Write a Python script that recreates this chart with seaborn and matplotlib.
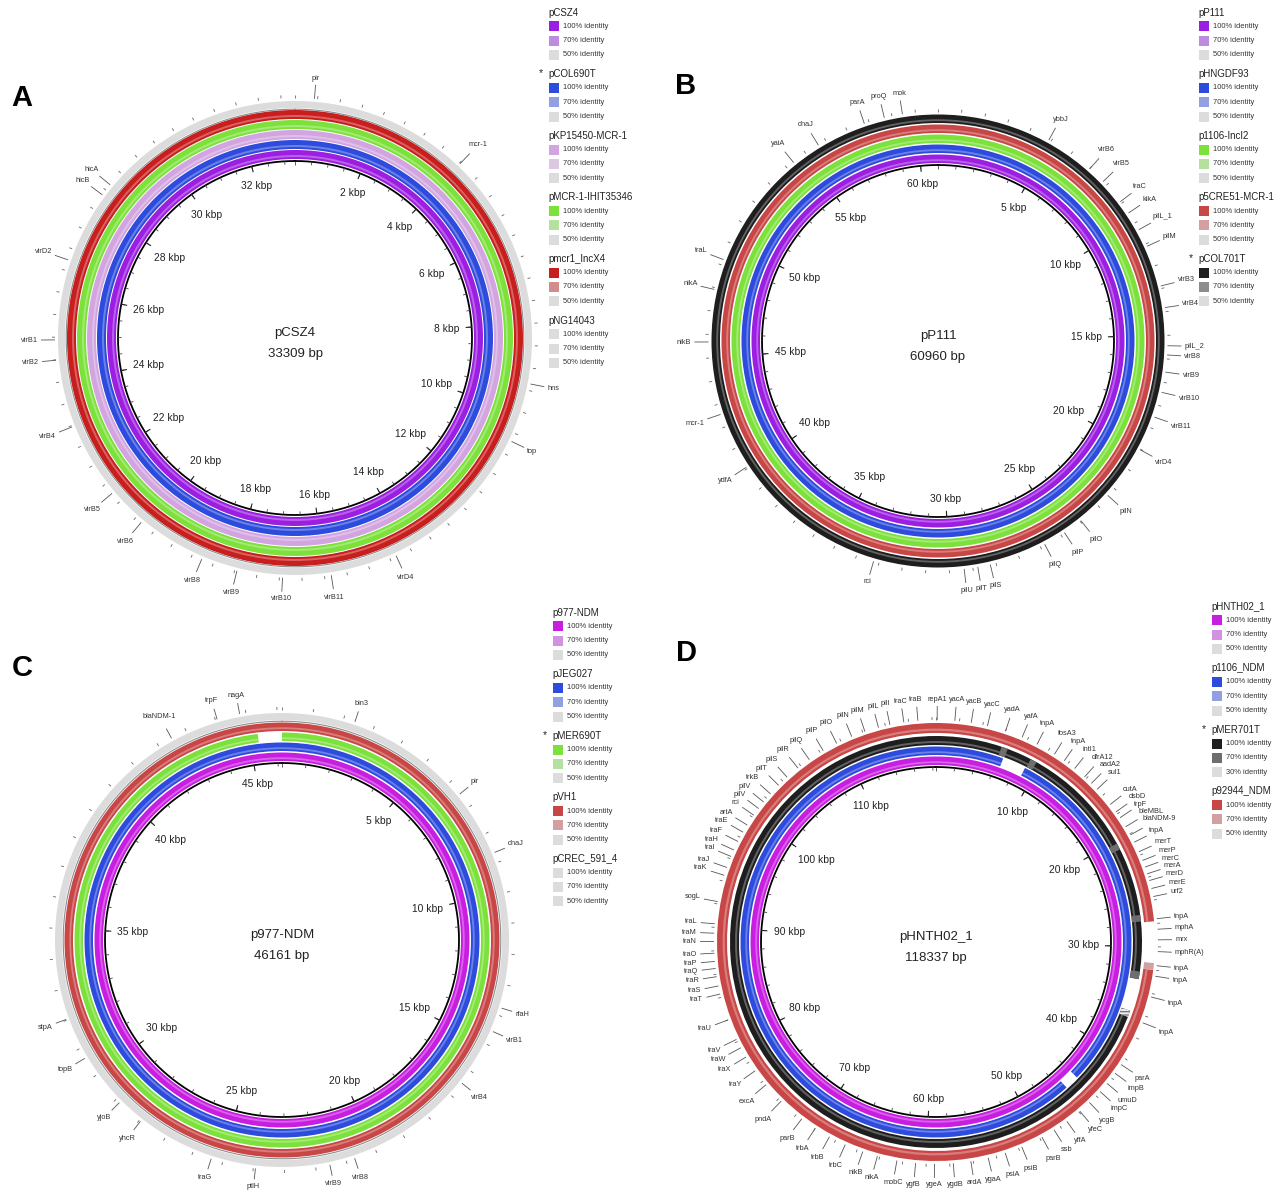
import numpy as np
import matplotlib
matplotlib.use("Agg")
import matplotlib.pyplot as plt
from matplotlib.patches import Rectangle
import seaborn as sns

sns.set_theme(style="white")
plt.rcParams['font.family'] = ['Liberation Sans', 'DejaVu Sans']

W, H = 1286, 1193

# ---------------- DATA ----------------
ident = ["100% identity", "70% identity", "50% identity"]
ident_d_ref = ["100% identity", "70% identity", "30% identity"]

# panel A
a_name = "pCSZ4"
a_bp = 33309
a_rings = ["pCSZ4", "pCOL690T", "pKP15450-MCR-1", "pMCR-1-IHIT35346", "pmcr1_IncX4", "pNG14043"]
a_ref = "pCOL690T"
a_genes = ["pir", "mcr-1", "hns", "top", "virD4", "virB11", "virB10", "virB9", "virB8",
           "virB6", "virB5", "virB4", "virB2", "virB1", "virD2", "hicB", "hicA"]
a_gene_kb = [0.43, 4.02, 9.35, 10.69, 14.35, 15.85, 16.93, 17.95, 18.77,
             20.34, 21.25, 22.97, 24.49, 24.94, 26.74, 28.37, 28.65]
a_scale_kb = np.arange(2, 33, 2)

# panel B
b_name = "pP111"
b_bp = 60960
b_rings = ["pP111", "pHNGDF93", "p1106-IncI2", "p5CRE51-MCR-1", "pCOL701T"]
b_ref = "pCOL701T"
b_genes = ["ybbJ", "virB6", "virB5", "traC", "kikA", "pilL_1", "pilM", "virB3", "virB4",
           "pilL_2", "virB8", "virB9", "virB10", "virB11", "virD4", "pilN", "pilO", "pilP",
           "pilQ", "pilS", "pilT", "pilU", "rci", "ydfA", "mcr-1", "nikB", "nikA", "traL",
           "yaiA", "dnaJ", "parA", "proQ", "mok"]
b_gene_kb = [4.89, 7.01, 7.79, 8.91, 9.50, 10.33, 11.11, 12.89, 13.82,
             15.44, 15.83, 16.56, 17.43, 18.52, 20.03, 22.40, 23.96, 24.82,
             25.79, 28.25, 28.79, 29.37, 33.24, 40.07, 42.56, 45.68, 47.92, 49.24,
             54.36, 55.64, 57.79, 58.67, 59.45]
b_scale_kb = np.arange(5, 61, 5)

# panel C
c_name = "p977-NDM"
c_bp = 46161
c_rings = ["p977-NDM", "pJEG027", "pMER690T", "pVH1", "pCREC_591_4"]
c_ref = "pMER690T"
c_genes = ["bin3", "pir", "dnaJ", "rfaH", "virB1", "virB4", "virB8", "virB9", "ptlH",
           "traG", "yhcR", "yjoB", "topB", "stpA", "blaNDM-1", "trpF", "nagA"]
c_gene_kb = [2.37, 6.49, 8.67, 13.75, 14.55, 16.48, 20.72, 21.54, 23.93,
             25.38, 27.95, 28.85, 30.65, 32.03, 42.48, 44.06, 44.80]
c_scale_kb = np.arange(5, 46, 5)
c_green_gaps = [(45.3, 46.161)]

# panel D
d_name = "pHNTH02_1"
d_bp = 118337
d_rings = ["pHNTH02_1", "p1106_NDM", "pMER701T", "p92944_NDM"]
d_ref = "pMER701T"
d_genes = ["repA1", "yacA", "yacB", "yacC", "yadA", "yafA", "tnpA", "fosA3", "tnpA", "intI1",
           "dfrA12", "aadA2", "sul1", "cutA", "dsbD", "trpF", "bleMBL", "blaNDM-9", "tnpA",
           "merT", "merP", "merC", "merA", "merD", "merE", "urf2", "tnpA", "mphA", "mrx",
           "mphR(A)", "tnpA", "tnpA", "tnpA", "tnpA", "parA", "impB", "umuD", "impC", "ycgB",
           "yfeC", "yffA", "ssb", "parB", "psiB", "psiA", "ygaA", "ardA", "ygdB", "ygeA",
           "ygfB", "mobC", "nikA", "nikB", "trbC", "trbB", "trbA", "parB", "pndA", "excA",
           "traY", "traX", "traW", "traV", "traU", "traT", "traS", "traR", "traQ", "traP",
           "traO", "traN", "traM", "traL", "sogL", "traK", "traJ", "traI", "traH", "traF",
           "traE", "artA", "rci", "pilV", "pilV", "trkB", "pilT", "pilS", "pilR", "pilQ",
           "pilP", "pilO", "pilN", "pilM", "pilL", "pilI", "traC", "traB"]
d_gene_kb = [0.1, 1.6, 3.0, 4.4, 6.0, 7.5, 8.9, 10.6, 11.6, 12.7,
             13.8, 14.6, 15.3, 17.0, 17.8, 18.4, 19.3, 20.1, 20.8,
             21.7, 22.5, 23.1, 23.7, 24.3, 25.0, 25.7, 27.6, 28.5, 29.4,
             30.4, 31.6, 32.5, 34.3, 36.6, 40.6, 41.5, 42.6, 43.5, 44.8,
             45.9, 47.3, 48.6, 49.8, 51.7, 53.2, 54.7, 56.2, 57.7, 59.3,
             60.9, 62.5, 64.2, 65.5, 67.1, 68.6, 70.0, 71.4, 73.7, 75.6,
             77.1, 78.5, 79.4, 80.2, 82.0, 84.3, 85.0, 85.8, 86.5, 87.1,
             87.8, 88.8, 89.5, 90.3, 92.2, 94.5, 95.2, 96.2, 96.8, 97.6,
             98.5, 99.2, 100.2, 100.9, 101.6, 102.5, 103.5, 104.5, 105.7, 106.9,
             108.3, 109.6, 111.0, 112.2, 113.4, 114.4, 115.6, 116.8]
d_scale_kb = np.arange(10, 111, 10)
d_blue_gaps = [(6.6, 8.9), (44.0, 45.4)]
d_black_gaps = [(33.0, 36.0)]
d_black_70 = [(6.1, 6.7), (9.0, 9.6), (20.2, 20.8), (27.1, 27.7), (32.3, 33.0)]
d_black_partial = [(36.0, 36.6)]
d_red_gaps = [(27.8, 32.0)]
d_red_70 = [(31.4, 32.0)]

# ---------------- STYLE ----------------
PAL = {
    "purple": ("#9B1EE1", "#BE8CDC", "#DCDCDC"),
    "blue": ("#2D4BDC", "#91A0E1", "#DCDCDC"),
    "lilac": ("#D2A5E1", "#DCC8E1", "#DCDCDC"),
    "green": ("#7DE13C", "#B4E1A0", "#DCDCDC"),
    "red": ("#C81E1E", "#D28C8C", "#DCDCDC"),
    "brick": ("#C84646", "#D2A0A0", "#DCDCDC"),
    "black": ("#1E1E1E", "#8C8C8C", "#DCDCDC"),
    "blackd": ("#1E1E1E", "#6E6E6E", "#DCDCDC"),
    "magenta": ("#C81EE1", "#D291E1", "#DCDCDC"),
    "grey": ("#DCDCDC", "#DCDCDC", "#DCDCDC"),
}
a_cols = ["purple", "blue", "lilac", "green", "red", "grey"]
b_cols = ["purple", "blue", "green", "brick", "black"]
c_cols = ["magenta", "blue", "green", "brick", "grey"]
d_cols = ["magenta", "blue", "blackd", "brick"]

RM = 295
fig = plt.figure(figsize=(W / 100, H / 100), dpi=100)
renderer = fig.canvas.get_renderer()

ov = fig.add_axes([0, 0, 1, 1])
ov.set_xlim(0, W)
ov.set_ylim(H, 0)
ov.axis("off")


def polar_panel(cx, cy):
    ax = fig.add_axes([(cx - RM) / W, 1 - (cy + RM) / H, 2 * RM / W, 2 * RM / H],
                      projection="polar")
    ax.set_theta_zero_location("N")
    ax.set_theta_direction(-1)
    ax.set_ylim(0, RM)
    ax.axis("off")
    return ax


def keep(total, gaps):
    segs, s = [], 0.0
    for g0, g1 in sorted(gaps):
        if g0 > s:
            segs.append((s, g0))
        s = max(s, g1)
    if s < total:
        segs.append((s, total))
    return segs


def arc(ax, total, s, e, r0, w, color, **kw):
    ax.bar(2 * np.pi * s / total, w, width=2 * np.pi * (e - s) / total, bottom=r0,
           align="edge", color=color, linewidth=0, **kw)


def ring(ax, total, r0, w, color, gaps=(), shade=True):
    for s, e in keep(total, gaps):
        arc(ax, total, s, e, r0, w, color)
        if shade:
            arc(ax, total, s, e, r0 + 0.22 * w, 0.22 * w, "white", alpha=0.3)


def place(ax, th, r_anchor, txt, size, sign, color="#222"):
    t = ax.text(th, 0, txt, fontsize=size, ha="center", va="center", color=color, clip_on=False)
    bb = t.get_window_extent(renderer)
    r = r_anchor + sign * (bb.width / 2 * abs(np.sin(th)) + bb.height / 2 * abs(np.cos(th)))
    t.set_position((th, r))


def panel(cx, cy, name, bp, rings, cols, r_in, r0s, ws, genes, gene_kb, scale_kb,
          tick_kb, special=None, lab_gap=20):
    ax = polar_panel(cx, cy)
    total = bp / 1000
    full = np.linspace(0, 2 * np.pi, 721)
    for i, nm in enumerate(rings):
        c = PAL[cols[i]][0]
        if cols[i] == "grey":
            ax.plot(full, np.full_like(full, r0s[i] - 1.2), color="#8C8C8C", lw=0.8)
            ring(ax, total, r0s[i], ws[i], c, shade=False)
        elif special and nm in special:
            special[nm](ax, total, r0s[i], ws[i], cols[i])
        else:
            ring(ax, total, r0s[i], ws[i], c)
    r_out = r0s[-1] + ws[-1]
    # backbone and ticks
    ax.plot(full, np.full_like(full, r_in), color="black", lw=1.3)
    minor = 2 * np.pi * np.arange(0, total, tick_kb) / total
    ax.vlines(minor, r_in - 3.5, r_in, color="#444", lw=0.6)
    ax.vlines(2 * np.pi * scale_kb / total, r_in - 6, r_in, color="#222", lw=0.8)
    ax.vlines(minor, r_out + 3, r_out + 6, color="#666", lw=0.6)
    for kb in scale_kb:
        place(ax, 2 * np.pi * kb / total, r_in - 12, f"{kb} kbp", 7.4, -1)
    for g, kb in zip(genes, gene_kb):
        th = 2 * np.pi * kb / total
        ax.vlines(th, r_out + 3, r_out + lab_gap - 3, color="#555", lw=0.6)
        place(ax, th, r_out + lab_gap, g, 5.3, 1, color="#333")
    ax.annotate(name, xy=(0, 0), xytext=(0, 3.6), textcoords="offset points",
                ha="center", va="center", fontsize=9.5, color="#222")
    ax.annotate(f"{bp} bp", xy=(0, 0), xytext=(0, -11.5), textcoords="offset points",
                ha="center", va="center", fontsize=9.5, color="#222")
    return ax


def legend(x0, y0, names, ref, cols, step=61.6):
    for i, nm in enumerate(names):
        ty = y0 + i * step
        ov.text(x0, ty, nm, fontsize=7, ha="left", va="center", color="#222")
        if nm == ref:
            ov.text(x0 - 7, ty - 1, "*", fontsize=7.5, ha="center", va="center", color="#222")
        labs = ident_d_ref if nm == d_ref else ident
        for j in range(3):
            sy = ty + 13.6 + j * 14.3
            ov.add_patch(Rectangle((x0 + 1, sy - 5), 10, 10, facecolor=PAL[cols[i]][j],
                                   edgecolor="none"))
            ov.text(x0 + 15, sy, labs[j], fontsize=5.4, ha="left", va="center", color="#333")


# special rings for C and D
def c_green(ax, total, r0, w, key):
    ring(ax, total, r0, w, PAL[key][0], gaps=c_green_gaps)


def d_blue(ax, total, r0, w, key):
    ring(ax, total, r0, w, PAL[key][0], gaps=d_blue_gaps)


def d_black(ax, total, r0, w, key):
    ring(ax, total, r0, w, PAL[key][0], gaps=d_black_gaps)
    for s, e in d_black_70:
        arc(ax, total, s, e, r0, w, PAL[key][1])
    for s, e in d_black_partial:
        arc(ax, total, s, e, r0, w, "#F2F2F2", edgecolor="#777", hatch="-----")


def d_red(ax, total, r0, w, key):
    ring(ax, total, r0, w, PAL[key][0], gaps=d_red_gaps)
    for s, e in d_red_70:
        arc(ax, total, s, e, r0, w, PAL[key][1])


panel(295, 338, a_name, a_bp, a_rings, a_cols, 177, [179, 189, 199, 209, 219, 230],
      [9, 9, 9, 9, 9, 7], a_genes, a_gene_kb, a_scale_kb, 0.5)
panel(938, 341, b_name, b_bp, b_rings, b_cols, 176, [178, 188, 198, 208, 218],
      [8.5, 8.5, 8.5, 8.5, 8.5], b_genes, b_gene_kb, b_scale_kb, 1.0)
panel(282, 940, c_name, c_bp, c_rings, c_cols, 177, [179, 189, 199, 209, 220],
      [8.5, 8.5, 8.5, 8.5, 7], c_genes, c_gene_kb, c_scale_kb, 1.0,
      special={"pMER690T": c_green}, lab_gap=17)
panel(936, 942, d_name, d_bp, d_rings, d_cols, 175, [177, 187, 197, 209],
      [8.5, 8.5, 9, 10], d_genes, d_gene_kb, d_scale_kb, 2.0,
      special={"p1106_NDM": d_blue, "pMER701T": d_black, "p92944_NDM": d_red})

legend(548, 12.7, a_rings, a_ref, a_cols)
legend(1198, 12.7, b_rings, b_ref, b_cols)
legend(552, 612.7, c_rings, c_ref, c_cols)
legend(1211, 606.7, d_rings, d_ref, d_cols)

for letter, (x, y) in zip("ABCD", [(22, 98), (686, 86), (22, 668), (687, 653)]):
    ov.text(x, y, letter, fontsize=21, fontweight="bold", ha="center", va="center", color="black")

fig.savefig("out.png", dpi=100, facecolor="white")
